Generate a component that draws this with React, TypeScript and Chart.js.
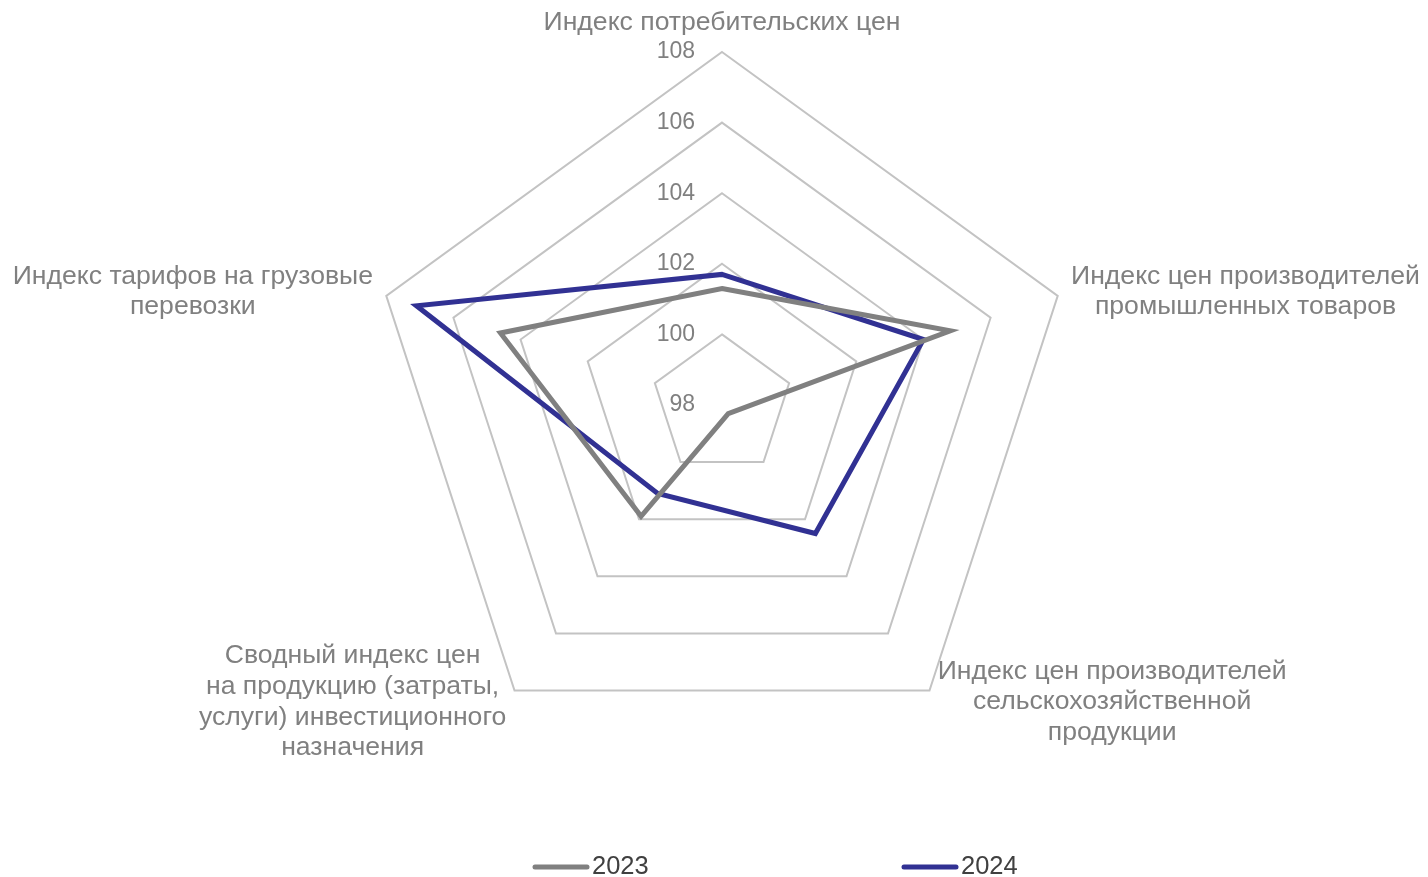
import React, { useEffect, useRef } from 'react';
import { Chart, registerables } from 'chart.js';

Chart.register(...registerables);

const categories: string[][] = [
  ['Индекс потребительских цен'],
  ['Индекс цен производителей', 'промышленных товаров'],
  ['Индекс цен производителей', 'сельскохозяйственной', 'продукции'],
  ['Сводный индекс цен', 'на продукцию (затраты,', 'услуги) инвестиционного', 'назначения'],
  ['Индекс тарифов на грузовые', 'перевозки'],
];
const seriesNames = ['2023', '2024'];
const values2023 = [101.3, 104.8, 98.3, 101.9, 104.6];
const values2024 = [101.7, 104.0, 102.5, 101.1, 107.1];
const scaleMin = 98;
const scaleMax = 108;
const scaleStep = 2;

const FONT = '"Liberation Sans", Arial, sans-serif';
const colors = ['#808080', '#313193'];

const pointLabelPlugin = {
  id: 'customPointLabels',
  afterDraw(chart: any) {
    const scale = chart.scales.r;
    const ctx = chart.ctx;
    ctx.save();
    ctx.font = `26.6px ${FONT}`;
    ctx.fillStyle = '#808080';
    ctx.textBaseline = 'middle';
    ctx.textAlign = 'center';
    const lh = 30.6;
    const labels = chart.data.labels as string[][];
    labels.forEach((lines, i) => {
      const p = scale.getPointPosition(i, scale.drawingArea + 14);
      const w = Math.max(...lines.map((l) => ctx.measureText(l).width));
      const h = lines.length * lh;
      let cx: number;
      let top: number;
      if (Math.abs(p.x - scale.xCenter) < 5) {
        cx = p.x;
        top = p.y - h;
      } else if (p.x > scale.xCenter) {
        cx = p.x + w / 2;
        top = p.y - h / 2;
      } else {
        cx = p.x - w / 2;
        top = p.y - h / 2;
      }
      lines.forEach((l, k) => ctx.fillText(l, cx, top + lh * (k + 0.5)));
    });
    ctx.restore();
  },
};

const tickLabelPlugin = {
  id: 'customTickLabels',
  afterDraw(chart: any) {
    const scale = chart.scales.r;
    const ctx = chart.ctx;
    ctx.save();
    ctx.font = `23px ${FONT}`;
    ctx.fillStyle = '#808080';
    ctx.textBaseline = 'middle';
    ctx.textAlign = 'right';
    scale.ticks.forEach((t: any) => {
      const d = scale.getDistanceFromCenterForValue(t.value);
      ctx.fillText(String(t.value), scale.xCenter - 27, scale.yCenter - d);
    });
    ctx.restore();
  },
};

const legendPlugin = {
  id: 'customLegend',
  afterDraw(chart: any) {
    const ctx = chart.ctx;
    const mid = chart.width / 2;
    const starts = [mid - 181, mid + 188];
    const y = 867;
    ctx.save();
    ctx.font = `25.5px ${FONT}`;
    ctx.textBaseline = 'middle';
    ctx.textAlign = 'left';
    chart.data.datasets.forEach((ds: any, i: number) => {
      const x = starts[i];
      ctx.strokeStyle = ds.borderColor;
      ctx.lineWidth = 5;
      ctx.lineCap = 'round';
      ctx.beginPath();
      ctx.moveTo(x + 2, y);
      ctx.lineTo(x + 54, y);
      ctx.stroke();
      ctx.fillStyle = '#404040';
      ctx.fillText(ds.label, x + 59, y);
    });
    ctx.restore();
  },
};

export default function App() {
  const ref = useRef<HTMLCanvasElement>(null);
  useEffect(() => {
    document.body.style.margin = '0';
    const chart = new Chart(ref.current!, {
      type: 'radar',
      data: {
        labels: categories,
        datasets: [
          {
            label: seriesNames[0],
            data: values2023,
            borderColor: colors[0],
            backgroundColor: colors[0],
            borderWidth: 5,
            fill: false,
            pointRadius: 0,
            pointHoverRadius: 0,
          },
          {
            label: seriesNames[1],
            data: values2024,
            borderColor: colors[1],
            backgroundColor: colors[1],
            borderWidth: 5,
            fill: false,
            pointRadius: 0,
            pointHoverRadius: 0,
          },
        ],
      },
      options: {
        animation: false,
        responsive: true,
        maintainAspectRatio: false,
        layout: { padding: { top: 52, bottom: 118, left: 16, right: 0 } },
        elements: { line: { tension: 0 } },
        plugins: {
          legend: { display: false },
          tooltip: { enabled: false },
        },
        scales: {
          r: {
            min: scaleMin,
            max: scaleMax,
            ticks: { stepSize: scaleStep, display: false },
            grid: { color: '#c3c3c3', lineWidth: 2 },
            angleLines: { display: false },
            pointLabels: { display: false },
          },
        },
      },
      plugins: [pointLabelPlugin, tickLabelPlugin, legendPlugin],
    });
    return () => chart.destroy();
  }, []);
  return (
    <div style={{ position: 'fixed', left: 0, top: 0, width: 1428, height: 877 }}>
      <canvas ref={ref} />
    </div>
  );
}
